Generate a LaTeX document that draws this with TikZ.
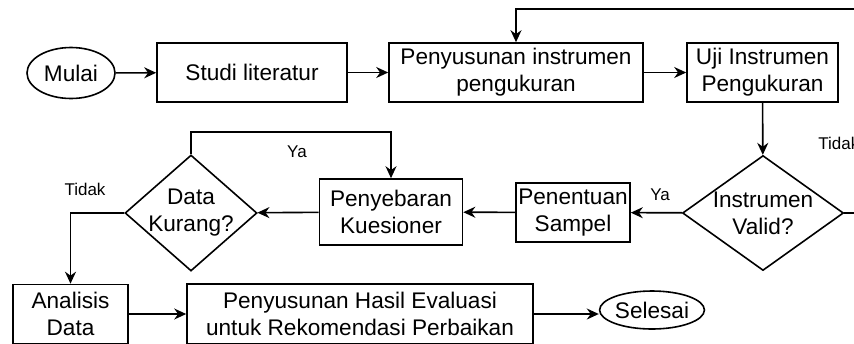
\documentclass[tikz,border=0pt]{standalone}
\usepackage{fontspec}
\setmainfont{Liberation Sans}
\usetikzlibrary{arrows.meta, positioning, shapes}

\begin{document}
\begin{tikzpicture}[
    x=0.5pt, y=-0.5pt,
    every node/.style={font=\fontsize{11.3}{13.5}\selectfont, align=center, inner sep=0pt},
    proc/.style={draw, rectangle, line width=0.8pt},
    term/.style={draw, ellipse, line width=0.8pt, minimum width=44pt},
    decide/.style={draw, diamond, line width=0.8pt},
    lbl/.style={font=\fontsize{8.5}{10}\selectfont},
    arr/.style={-{Stealth[length=6pt, width=5.5pt]}, line width=0.8pt}
]
\useasboundingbox (0,0) rectangle (854,343);
\clip (0,0) rectangle (854,343);

% top row
\node[term, minimum height=25.5pt] (mulai) at (71,73) {Mulai};
\node[proc, minimum width=95pt, minimum height=29.5pt] (studi) at (252,72.5) {Studi literatur};
\node[proc, minimum width=127pt, minimum height=29.5pt] (susun) at (516,72.5) {Penyusunan instrumen\\pengukuran};
\node[proc, minimum width=75.5pt, minimum height=29.5pt] (uji) at (762.5,72.5) {Uji Instrumen\\Pengukuran};

% middle row
\node[decide, aspect=1.4, minimum width=80.5pt, minimum height=57.5pt] (valid) at (763,213) {Instrumen\\Valid?};
\node[proc, minimum width=57pt, minimum height=29.5pt] (sampel) at (573,212.5) {Penentuan\\Sampel};
\node[proc, minimum width=71.5pt, minimum height=33pt] (sebar) at (391,212) {Penyebaran\\Kuesioner};
\node[decide, aspect=1.14, inner sep=-3pt, minimum width=66pt, minimum height=58pt] (kurang) at (191,213) {Data\\Kurang?};

% bottom row
\node[proc, minimum width=57.5pt, minimum height=29.5pt] (analisis) at (70.5,314) {Analisis\\Data};
\node[proc, minimum width=173pt, minimum height=30pt] (hasil) at (360,314) {Penyusunan Hasil Evaluasi\\untuk Rekomendasi Perbaikan};
\node[term, minimum height=19pt] (selesai) at (652,310) {Selesai};

\coordinate (balik) at (880,9);

\draw[arr] (mulai) -- (studi);
\draw[arr] (studi) -- (susun);
\draw[arr] (susun) -- (uji);
\draw[arr] (uji) -- (valid);
\draw[arr] (valid) -- (sampel);
\draw[arr] (sampel) -- (sebar);
\draw[arr] (sebar) -- (kurang);
\draw[arr] (kurang.north) -- ++(0,-22) -| (sebar.north);
\draw[arr] (kurang.west) -| (analisis.north);
\draw[arr] (analisis) -- (hasil);
\draw[arr] (hasil.east) -- (hasil.east -| selesai.west);
\draw[arr] (valid.east) -| (balik) -| (susun.north);

% branch labels
\node[lbl] (yaValid) at (660,195) {Ya};
\node[lbl, anchor=west] (tidakValid) at (818,143) {Tidak};
\node[lbl] (yaKurang) at (297,152) {Ya};
\node[lbl] (tidakKurang) at (85,189) {Tidak};
\end{tikzpicture}
\end{document}
